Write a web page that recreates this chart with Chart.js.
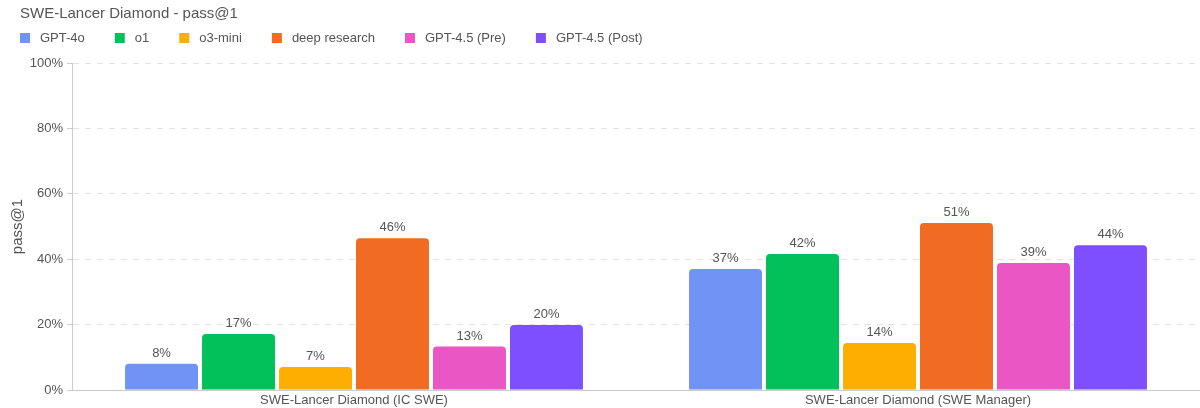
<!DOCTYPE html>
<html>
<head>
<meta charset="utf-8">
<script src="https://cdn.jsdelivr.net/npm/chart.js@4"></script>
<style>
  html, body { margin: 0; padding: 0; background: #fff; }
  #wrap { width: 1200px; height: 408px; position: relative; }
</style>
</head>
<body>
<div id="wrap"><canvas id="chart"></canvas></div>
<script>
// SWE-Lancer Diamond - pass@1, grouped bars per model

const categories = ['SWE-Lancer Diamond (IC SWE)', 'SWE-Lancer Diamond (SWE Manager)'];
const models = ['GPT-4o', 'o1', 'o3-mini', 'deep research', 'GPT-4.5 (Pre)', 'GPT-4.5 (Post)'];
const gpt4o = [8.0, 37.0];
const o1 = [17.1, 41.6];
const o3mini = [7.0, 14.4];
const deepResearch = [46.4, 51.1];
const gpt45Pre = [13.3, 38.8];
const gpt45Post = [19.9, 44.3];
const yTicks = [0, 20, 40, 60, 80, 100];

const seriesValues = [gpt4o, o1, o3mini, deepResearch, gpt45Pre, gpt45Post];
const colors = ['#7193F6', '#02C15A', '#FEAE00', '#F26B22', '#EA57C4', '#7E4FFE'];

const FONT = "'Liberation Sans', Arial, Helvetica, sans-serif";
const TEXT = '#555555';
const TITLE = 'SWE-Lancer Diamond - pass@1';

// title + legend drawn at the top left, like the original
const header = {
    id: 'header',
    afterDraw(chart) {
        const ctx = chart.ctx;
        ctx.save();
        ctx.fillStyle = TEXT;
        ctx.textBaseline = 'middle';
        ctx.textAlign = 'left';
        ctx.font = `15px ${FONT}`;
        ctx.fillText(TITLE, 20, 14);

        ctx.font = `13px ${FONT}`;
        let x = 20;
        const y = 38;
        chart.data.datasets.forEach(ds => {
            ctx.fillStyle = ds.backgroundColor;
            ctx.fillRect(x, y - 5, 10, 10);
            ctx.fillStyle = TEXT;
            ctx.fillText(ds.label, x + 20, y);
            x += 20 + ctx.measureText(ds.label).width + 30;
        });
        ctx.restore();
    }
};

// value labels above each bar
const barLabels = {
    id: 'barLabels',
    afterDatasetsDraw(chart) {
        const ctx = chart.ctx;
        ctx.save();
        ctx.font = `13px ${FONT}`;
        ctx.fillStyle = TEXT;
        ctx.textAlign = 'center';
        ctx.textBaseline = 'bottom';
        chart.data.datasets.forEach((ds, i) => {
            chart.getDatasetMeta(i).data.forEach((bar, j) => {
                ctx.fillText(Math.round(ds.data[j]) + '%', bar.x, bar.y - 4);
            });
        });
        ctx.restore();
    }
};

new Chart(document.getElementById('chart').getContext('2d'), {
    type: 'bar',
    data: {
        labels: categories,
        datasets: models.map((name, i) => ({
            label: name,
            data: seriesValues[i],
            backgroundColor: colors[i],
            borderRadius: { topLeft: 4, topRight: 4 },
            borderSkipped: 'bottom',
            categoryPercentage: 0.819,
            barPercentage: 0.948
        }))
    },
    options: {
        responsive: true,
        maintainAspectRatio: false,
        animation: false,
        layout: { padding: { left: 0, right: 0, top: 63, bottom: 0 } },
        plugins: {
            title: { display: false },
            legend: { display: false },
            tooltip: { enabled: false }
        },
        scales: {
            x: {
                afterFit: scale => { scale.height = 18; },
                grid: { display: false, drawTicks: false },
                border: { color: '#c8c8c8' },
                ticks: { color: TEXT, font: { family: FONT, size: 13 }, padding: 3 }
            },
            y: {
                min: 0,
                max: 100,
                afterFit: scale => { scale.width = 72; },
                afterBuildTicks: axis => { axis.ticks = yTicks.map(v => ({ value: v })); },
                title: {
                    display: true,
                    text: 'pass@1',
                    color: TEXT,
                    font: { family: FONT, size: 15 },
                    padding: { top: 9, bottom: 4 }
                },
                grid: { color: '#e2e2e2', tickColor: '#cccccc', tickLength: 5 },
                border: { color: '#cccccc', dash: [6, 6] },
                ticks: {
                    color: TEXT,
                    font: { family: FONT, size: 13 },
                    padding: 4,
                    callback: v => v + '%'
                }
            }
        }
    },
    plugins: [barLabels, header]
});
</script>
</body>
</html>
